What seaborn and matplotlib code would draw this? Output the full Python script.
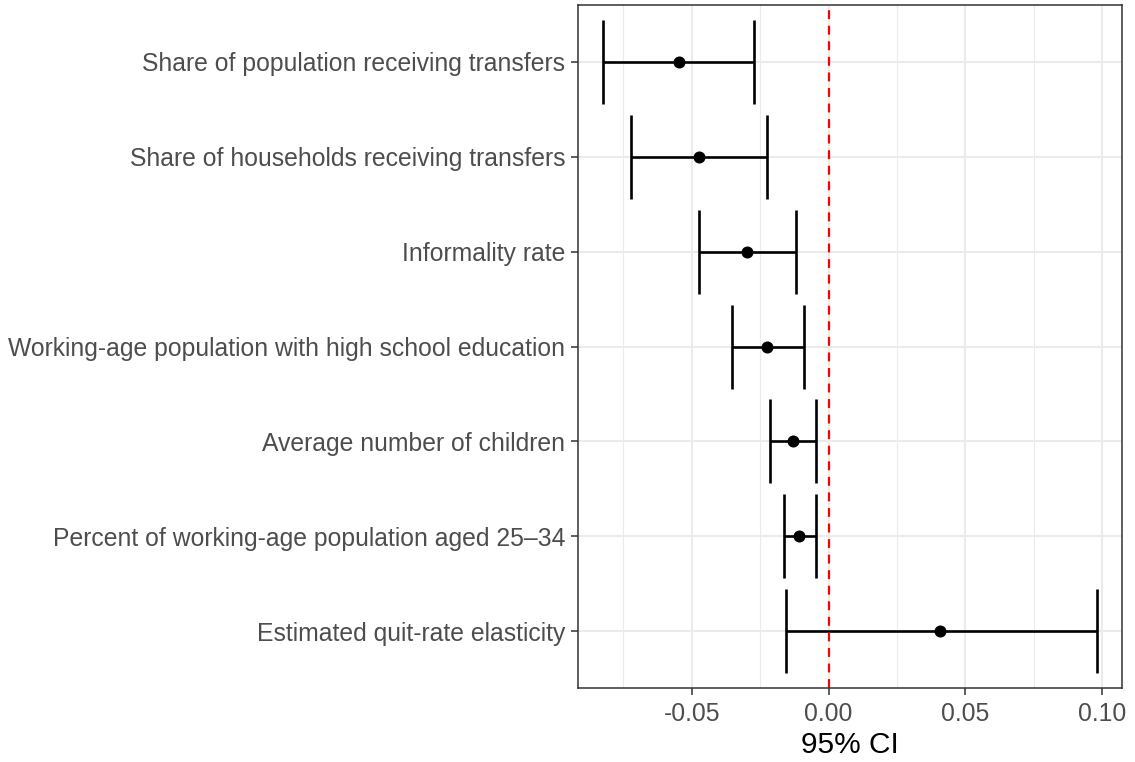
import numpy as np
import pandas as pd
import matplotlib
matplotlib.use("Agg")
import matplotlib.pyplot as plt
import seaborn as sns

# estimates and 95% CI
labels = [
    "Share of population receiving transfers",
    "Share of households receiving transfers",
    "Informality rate",
    "Working-age population with high school education",
    "Average number of children",
    "Percent of working-age population aged 25\u201334",
    "Estimated quit-rate elasticity",
]
estimate = [-0.0547, -0.0474, -0.0299, -0.0223, -0.0131, -0.0109, 0.0409]
ci_low = [-0.0825, -0.0723, -0.0474, -0.0354, -0.0215, -0.0164, -0.0157]
ci_high = [-0.0274, -0.0226, -0.0120, -0.0088, -0.0044, -0.0047, 0.0982]
x_ticks = [-0.05, 0.00, 0.05, 0.10]
x_minor = [-0.075, -0.025, 0.025, 0.075]

df = pd.DataFrame({"label": labels, "est": estimate, "lo": ci_low, "hi": ci_high})
df["pos"] = np.arange(len(df))

sns.set_theme(style="white")
plt.rcParams["font.family"] = ["Liberation Sans", "DejaVu Sans"]

fig = plt.figure(figsize=(11.35, 7.62), dpi=100)
ax = fig.add_axes([578 / 1135, 1 - 688 / 762, (1122 - 578) / 1135, (688 - 5) / 762])

grid_col = "#EBEBEB"
for v in x_minor:
    ax.axvline(v, color=grid_col, lw=0.8, zorder=0)
for v in x_ticks:
    ax.axvline(v, color=grid_col, lw=1.5, zorder=0)
for p in df["pos"]:
    ax.axhline(p, color=grid_col, lw=1.5, zorder=0)

ax.errorbar(df["est"], df["pos"],
            xerr=[df["est"] - df["lo"], df["hi"] - df["est"]],
            fmt="none", ecolor="black", elinewidth=1.9, capsize=30,
            capthick=1.9, zorder=2)
sns.scatterplot(data=df, x="est", y="pos", color="black", s=75,
                edgecolor="black", linewidth=0, ax=ax, zorder=3)

ax.axvline(0, color="red", lw=1.6, ls=(0, (4, 3)), zorder=2.5)

span = max(ci_high) - min(ci_low)
ax.set_xlim(min(ci_low) - 0.05 * span, max(ci_high) + 0.05 * span)
ax.set_ylim(len(df) - 0.4, -0.6)
ax.set_xticks(x_ticks)
ax.set_xticklabels([f"{v:.2f}" for v in x_ticks])
ax.set_yticks(df["pos"])
ax.set_yticklabels(df["label"])

ax.tick_params(axis="both", which="major", length=5, width=1.1,
               color="#333333", labelcolor="#4D4D4D", labelsize=17.8,
               bottom=True, left=True, pad=4)
ax.tick_params(axis="x", pad=5)
for s in ax.spines.values():
    s.set_color("#333333")
    s.set_linewidth(1.1)

ax.set_xlabel("95% CI", fontsize=21.5, color="black", labelpad=4)
ax.set_ylabel("")

fig.savefig("out.png", dpi=100)
